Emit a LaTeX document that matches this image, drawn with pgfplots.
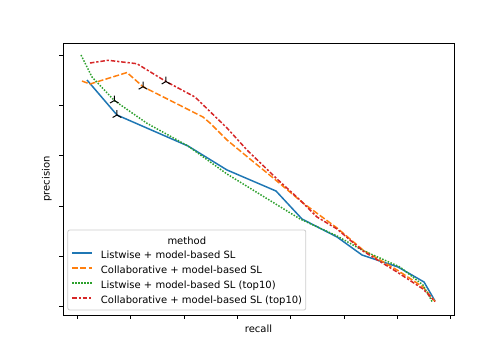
\documentclass[border=0pt]{standalone}
\usepackage{fontspec}
\setmainfont{DejaVu Sans}
\usepackage{pgfplots}
\pgfplotsset{compat=1.18}
\usetikzlibrary{plotmarks,fit}

\definecolor{tabblue}{HTML}{1F77B4}
\definecolor{taborange}{HTML}{FF7F0E}
\definecolor{tabgreen}{HTML}{2CA02C}
\definecolor{tabred}{HTML}{D62728}

\tikzset{
  s1/.style={color=tabblue, line width=1.5bp, line join=round},
  s2/.style={color=taborange, line width=1.5bp, line join=round, dash pattern=on 6bp off 2.25bp},
  s3/.style={color=tabgreen, line width=1.5bp, line join=round, dash pattern=on 1.5bp off 1.5bp},
  s4/.style={color=tabred, line width=1.5bp, line join=round, dash pattern=on 4.5bp off 1.875bp on 2.25bp off 1.875bp},
}

\begin{document}
\begin{tikzpicture}[font=\fontsize{10bp}{12bp}\selectfont]
\path[use as bounding box] (-63bp,-45bp) rectangle (441bp,315bp);
\begin{axis}[
    scale only axis,
    width=391bp, height=272bp,
    xmin=-0.0268, xmax=0.7063,
    ymin=0.0833, ymax=0.6241,
    xtick={0,0.1,0.2,0.3,0.4,0.5,0.6,0.7},
    ytick={0.1,0.2,0.3,0.4,0.5,0.6},
    xticklabels={}, yticklabels={},
    xtick pos=lower, ytick pos=left,
    tick align=outside,
    major tick length=3.5bp,
    tick style={black, line width=0.8bp},
    axis line style={line width=0.8bp},
    xlabel={recall},
    ylabel={precision},
    xlabel style={at={(axis description cs:0.5,0)}, anchor=north, yshift=-10bp, inner sep=0pt},
    ylabel style={at={(axis description cs:-0.0281,0.5)}, anchor=south, inner sep=0pt},
    legend cell align=left,
    legend image code/.code={\draw[#1] (0bp,3.5bp) -- (20bp,3.5bp);},
    legend style={name=leg, at={(rel axis cs:0,0)}, anchor=south west,
        xshift=8.3bp, yshift=8.5bp, draw=none, fill=none, inner sep=0pt,
        row sep=5bp, column sep=8bp,
        nodes={inner sep=0pt, text height=7.5bp, text depth=2.5bp}},
]

% Listwise + model-based SL
\addplot[s1, forget plot] coordinates {
    (0.0182,0.5505) (0.0744,0.4809) (0.2076,0.4193) (0.2807,0.3716)
    (0.3726,0.3298) (0.4213,0.2742) (0.4870,0.2384) (0.5338,0.2026)
    (0.6013,0.1787) (0.6501,0.1489) (0.6707,0.1111)
};

% Collaborative + model-based SL
\addplot[s2, forget plot] coordinates {
    (0.0088,0.5485) (0.0238,0.5425) (0.0932,0.5654) (0.1232,0.5372)
    (0.2357,0.4769) (0.2488,0.4650) (0.2807,0.4312) (0.3238,0.3934)
    (0.3651,0.3577) (0.4232,0.3060) (0.4870,0.2563) (0.5357,0.2125)
    (0.5995,0.1728) (0.6482,0.1390) (0.6707,0.1101)
};

% Listwise + model-based SL (top10)
\addplot[s3, forget plot] coordinates {
    (0.0069,0.6002) (0.0276,0.5565) (0.0694,0.5097) (0.1307,0.4644)
    (0.2076,0.4193) (0.2807,0.3636) (0.4176,0.2742) (0.4870,0.2404)
    (0.5338,0.2125) (0.6051,0.1787) (0.6482,0.1429) (0.6651,0.1101)
};

% Collaborative + model-based SL (top10)
\addplot[s4, forget plot] coordinates {
    (0.0238,0.5843) (0.0576,0.5897) (0.1119,0.5829) (0.1663,0.5475)
    (0.2207,0.5167) (0.2807,0.4551) (0.3182,0.4113) (0.3745,0.3537)
    (0.4176,0.3119) (0.4495,0.2781) (0.4870,0.2543) (0.5357,0.2105)
    (0.5995,0.1688) (0.6482,0.1350) (0.6707,0.1101)
};

% threshold markers
\addplot[only marks, mark=Mercedes star, mark size=5bp, black, line width=1bp, forget plot]
    coordinates {(0.0744,0.4809) (0.0694,0.5097) (0.1232,0.5372) (0.1663,0.5475)};

\addlegendimage{s1}
\addlegendentry{Listwise + model-based SL}
\addlegendimage{s2}
\addlegendentry{Collaborative + model-based SL}
\addlegendimage{s3}
\addlegendentry{Listwise + model-based SL (top10)}
\addlegendimage{s4}
\addlegendentry{Collaborative + model-based SL (top10)}

\end{axis}
\node[anchor=base] (ttl) at ([yshift=6.5bp]leg.north) {method};
\node[draw=black!20, line width=0.8bp, rounded corners=2bp, fit=(leg)(ttl),
      inner xsep=3.5bp, inner ysep=3.5bp] {};
\end{tikzpicture}
\end{document}
